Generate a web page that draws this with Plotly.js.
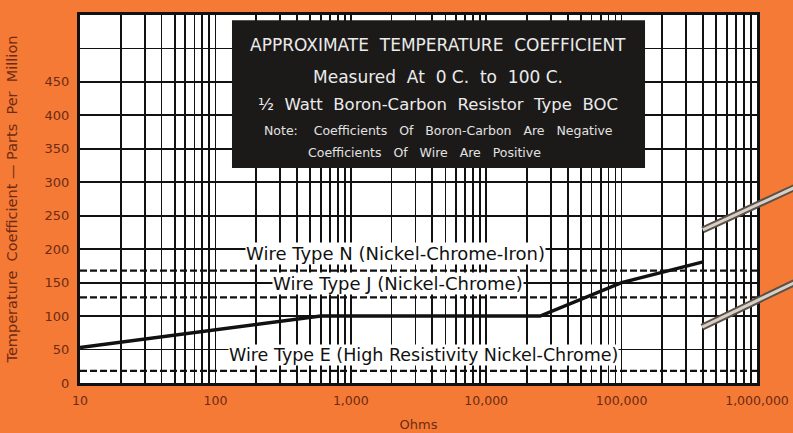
<!DOCTYPE html>
<html>
<head>
<meta charset="utf-8">
<script src="https://cdn.plot.ly/plotly-3.0.1.min.js"></script>
<style>
  html, body { margin: 0; padding: 0; background: #f47a36; }
  #chart { width: 793px; height: 433px; }
</style>
</head>
<body>
<div id="chart"></div>
<script>
// ---- Data ----
const ohmsRange = [10, 1000000];
const boronOhms = [10, 600, 25000, 100000, 400000];
const boronPPM  = [53, 100, 100, 150, 181];

const wireN_PPM = [168, 168];
const wireJ_PPM = [128, 128];
const wireE_PPM = [18, 18];

const wireLabels = [
  "Wire Type N (Nickel-Chrome-Iron)",
  "Wire Type J (Nickel-Chrome)",
  "Wire Type E (High Resistivity Nickel-Chrome)"
];

const decadeVals = [10, 100, 1000, 10000, 100000, 1000000];
const decadeText = ["10", "100", "1,000", "10,000", "100,000", "1,000,000"];
const yTickVals = [0, 50, 100, 150, 200, 250, 300, 350, 400, 450, 500];
const yTickText = ["0", "50", "100", "150", "200", "250", "300", "350", "400", "450", ""];

const boxLines = [
  "APPROXIMATE  TEMPERATURE  COEFFICIENT",
  "Measured  At  0 C.  to  100 C.",
  "½  Watt  Boron-Carbon  Resistor  Type  BOC",
  "Note:    Coefficients   Of   Boron-Carbon   Are   Negative",
  "Coefficients   Of   Wire   Are   Positive"
];

// log grid tick positions (1..9 per decade)
const xTickVals = [];
const xTickText = [];
for (let d = 1; d <= 6; d++) {
  for (let m = 1; m <= 9; m++) {
    const v = m * Math.pow(10, d);
    if (v > 1000000) break;
    xTickVals.push(v);
    const k = decadeVals.indexOf(v);
    xTickText.push(k >= 0 ? decadeText[k] : "");
  }
}

const ink = "#111111";
const brown = "#6e2a12";

const traces = [
  { x: ohmsRange, y: wireN_PPM, mode: "lines", line: {color: ink, width: 2.3, dash: "7px,3px"}, hoverinfo: "skip" },
  { x: ohmsRange, y: wireJ_PPM, mode: "lines", line: {color: ink, width: 2.3, dash: "7px,3px"}, hoverinfo: "skip" },
  { x: ohmsRange, y: wireE_PPM, mode: "lines", line: {color: ink, width: 2.3, dash: "7px,3px"}, hoverinfo: "skip" },
  { x: boronOhms, y: boronPPM, mode: "lines", line: {color: ink, width: 3.5}, hoverinfo: "skip" }
];

const boxFont = "DejaVu Sans, sans-serif";
const boxX = 0.529;
const boxColor = "#ebebeb";
function py(p) { return (383 - p) / 368; }
function px(p) { return (p - 80) / 677; }
function note(text, x, y, size, color, bg) {
  const a = {text: text, xref: "paper", yref: "paper", x: x, y: y, xanchor: "center", yanchor: "middle",
             showarrow: false, font: {family: boxFont, size: size, color: color}};
  if (bg) { a.bgcolor = bg; a.borderpad = 0; }
  return a;
}
const layout = {
  width: 793, height: 433,
  margin: {l: 80, r: 36, t: 15, b: 50},
  paper_bgcolor: "#f47a36",
  plot_bgcolor: "#ffffff",
  showlegend: false,
  font: {family: "DejaVu Sans, sans-serif", color: brown},
  xaxis: {
    type: "log",
    range: [1, 6],
    tickmode: "array",
    tickvals: xTickVals,
    ticktext: xTickText,
    showgrid: true, gridcolor: ink, gridwidth: 1.8,
    showline: true, linecolor: ink, linewidth: 3, mirror: true,
    ticks: "", ticklabelstandoff: 4,
    tickfont: {size: 12.5, color: brown},
    zeroline: false,
    title: {text: "Ohms", font: {size: 13, color: brown}, standoff: 13}
  },
  yaxis: {
    range: [0, 550],
    tickmode: "array",
    tickvals: yTickVals,
    ticktext: yTickText,
    showgrid: true, gridcolor: ink, gridwidth: 1.8,
    showline: true, linecolor: ink, linewidth: 3, mirror: true,
    ticks: "", ticklabelstandoff: 5,
    tickfont: {size: 13, color: brown},
    zeroline: false,
    title: {text: "Temperature  Coefficient — Parts  Per  Million", font: {size: 14.5, color: brown}, standoff: 24}
  },
  shapes: [
    {type: "rect", xref: "paper", yref: "paper", x0: 0.2245, x1: 0.8346, y0: 0.584, y1: 0.986,
     fillcolor: "#1c1a19", line: {width: 0}, layer: "above"},
    // resistor leads (photo detail)
    {type: "line", xref: "paper", yref: "paper", x0: 0.920, y0: 0.416, x1: 1.06, y1: 0.535,
     line: {color: "#5a5048", width: 7}, layer: "above"},
    {type: "line", xref: "paper", yref: "paper", x0: 0.920, y0: 0.416, x1: 1.06, y1: 0.535,
     line: {color: "#d8d0c6", width: 3}, layer: "above"},
    {type: "line", xref: "paper", yref: "paper", x0: 0.919, y0: 0.152, x1: 1.06, y1: 0.277,
     line: {color: "#5a5048", width: 7}, layer: "above"},
    {type: "line", xref: "paper", yref: "paper", x0: 0.919, y0: 0.152, x1: 1.06, y1: 0.277,
     line: {color: "#d8d0c6", width: 3}, layer: "above"}
  ],
  annotations: [
    note(boxLines[0], boxX, py(45), 17, boxColor),
    note(boxLines[1], boxX, py(77), 17, boxColor),
    note(boxLines[2], boxX, py(104), 16.5, boxColor),
    note(boxLines[3], px(438), py(130), 12.5, "#e2e2e2"),
    note(boxLines[4], px(424), py(152), 12.5, "#e2e2e2"),
    note(wireLabels[0], px(395), py(254), 18, ink, "#ffffff"),
    note(wireLabels[1], px(398), py(283), 18, ink, "#ffffff"),
    note(wireLabels[2], px(423), py(355), 17.5, ink, "#ffffff")
  ]
};

Plotly.newPlot("chart", traces, layout, {displayModeBar: false, staticPlot: true});
</script>
</body>
</html>
